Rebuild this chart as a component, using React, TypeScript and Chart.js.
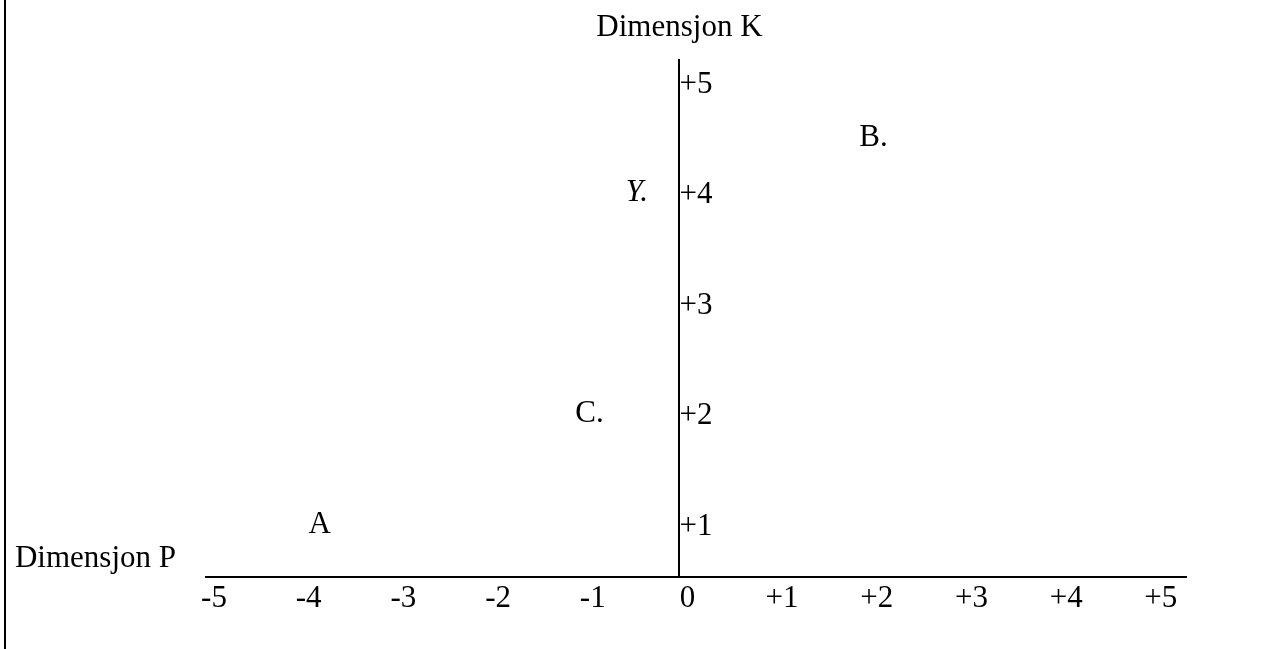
import React, { useEffect, useRef } from "react";
import { Chart, registerables } from "chart.js";

Chart.register(...registerables);

// ---- data ----
const xTickValues = [-5, -4, -3, -2, -1, 0, 1, 2, 3, 4, 5];
const xTickLabels = ["-5", "-4", "-3", "-2", "-1", "0", "+1", "+2", "+3", "+4", "+5"];
const yTickValues = [1, 2, 3, 4, 5];
const yTickLabels = ["+1", "+2", "+3", "+4", "+5"];
const pointNames = ["A", "B.", "C.", "Y."];
const pointX = [-3.8, 2.05, -0.95, -0.45];
const pointY = [1.0, 4.5, 2.0, 4.0];
const pointItalic = [false, false, false, true];
const titleK = "Dimensjon K";
const titleP = "Dimensjon P";

const FONT = "'Liberation Serif', 'Times New Roman', Times, serif";
const FS = 31;

const textPlugin = {
  id: "textPlugin",
  afterDraw(chart: any) {
    const { ctx, chartArea, scales } = chart;
    const xs = scales.x;
    const ys = scales.y;
    const x0 = xs.getPixelForValue(0);
    ctx.save();
    ctx.fillStyle = "#000";
    ctx.textBaseline = "middle";
    // y tick labels to the right of the vertical axis
    ctx.font = `${FS}px ${FONT}`;
    ctx.textAlign = "left";
    yTickValues.forEach((v, i) => {
      ctx.fillText(yTickLabels[i], x0, ys.getPixelForValue(v) + 2);
    });
    // point labels
    ctx.textAlign = "center";
    pointNames.forEach((name, i) => {
      ctx.font = `${pointItalic[i] ? "italic " : ""}${FS}px ${FONT}`;
      ctx.fillText(name, xs.getPixelForValue(pointX[i]), ys.getPixelForValue(pointY[i]));
    });
    // axis names
    ctx.font = `${FS}px ${FONT}`;
    ctx.textAlign = "center";
    ctx.fillText(titleK, x0, chartArea.top - 32);
    ctx.textAlign = "right";
    ctx.fillText(titleP, chartArea.left - 30, chartArea.bottom - 18);
    ctx.restore();
  },
};

export default function App() {
  const ref = useRef<HTMLCanvasElement | null>(null);
  useEffect(() => {
    document.body.style.margin = "0";
    const canvas = ref.current;
    if (!canvas) return;
    const chart = new Chart(canvas, {
      type: "scatter",
      data: {
        datasets: [
          {
            data: pointNames.map((_, i) => ({ x: pointX[i], y: pointY[i] })),
            pointRadius: 0,
            pointHoverRadius: 0,
          },
        ],
      },
      options: {
        animation: false,
        responsive: false,
        events: [],
        layout: { padding: { left: 206, right: 87, top: 60, bottom: 32 } },
        plugins: { legend: { display: false }, tooltip: { enabled: false }, title: { display: false } },
        scales: {
          x: {
            type: "linear",
            position: "bottom",
            min: -5,
            max: 5.35,
            afterBuildTicks: (scale: any) => {
              scale.ticks = xTickValues.map((v) => ({ value: v }));
            },
            afterFit: (scale: any) => {
              scale.height = 40;
            },
            grid: { display: false, drawTicks: false, tickLength: 0 },
            border: { display: true, color: "#000", width: 2 },
            ticks: {
              color: "#000",
              font: { family: FONT, size: FS },
              padding: 3,
              labelOffset: 8,
              maxRotation: 0,
              autoSkip: false,
              callback: (value: any) => {
                const i = xTickValues.indexOf(Number(value));
                return i >= 0 ? xTickLabels[i] : "";
              },
            },
          },
          y: {
            type: "linear",
            position: { x: 0 } as any,
            min: 0.527,
            max: 5.205,
            grid: { display: false, drawTicks: false, tickLength: 0 },
            border: { display: true, color: "#000", width: 2 },
            ticks: { display: false },
          },
        },
      },
      plugins: [textPlugin],
    });
    return () => chart.destroy();
  }, []);
  return (
    <div style={{ position: "relative", width: 1273, height: 649, background: "#fff" }}>
      <canvas ref={ref} width={1273} height={649} style={{ display: "block", width: 1273, height: 649 }} />
      <div style={{ position: "absolute", left: 4, top: 0, width: 2, height: 649, background: "#000" }} />
    </div>
  );
}
